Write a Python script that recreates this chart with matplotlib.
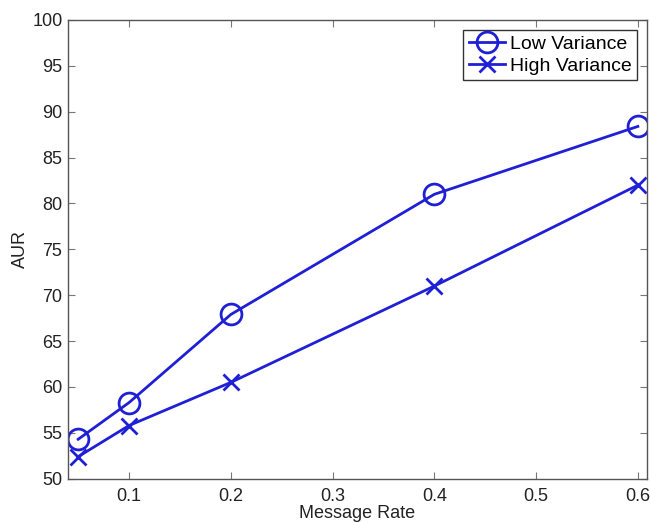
import matplotlib
matplotlib.use("Agg")
import matplotlib.pyplot as plt

# Data
message_rate = [0.05, 0.1, 0.2, 0.4, 0.6]
low_variance = [54.3, 58.3, 67.9, 81.0, 88.4]
high_variance = [52.4, 55.8, 60.5, 71.0, 82.0]
x_ticks = [0.1, 0.2, 0.3, 0.4, 0.5, 0.6]
x_tick_labels = ["0.1", "0.2", "0.3", "0.4", "0.5", "0.6"]
y_ticks = [50, 55, 60, 65, 70, 75, 80, 85, 90, 95, 100]

plt.rcParams["font.family"] = ["Liberation Sans", "DejaVu Sans"]

blue = "#1f1fd6"

fig = plt.figure(figsize=(6.5, 5.22), dpi=100)
ax = fig.add_axes([0.1046, 0.0829, 0.8908, 0.8788])

ax.plot(message_rate, low_variance, color=blue, lw=2.0, marker="o",
        markersize=15, markerfacecolor="none", markeredgewidth=2.0,
        label="Low Variance")
ax.plot(message_rate, high_variance, color=blue, lw=2.0, marker="x",
        markersize=11, markeredgewidth=2.0, label="High Variance")

ax.set_xlim(0.04, 0.609)
ax.set_ylim(50, 100)
ax.set_xticks(x_ticks)
ax.set_xticklabels(x_tick_labels)
ax.set_yticks(y_ticks)

for side in ax.spines.values():
    side.set_color("#555555")
    side.set_linewidth(1.0)

ax.tick_params(direction="in", length=5, width=0.8, color="#777777",
               top=True, right=True, labelsize=13, labelcolor="#222222")
ax.tick_params(axis="x", pad=7)
ax.tick_params(axis="y", pad=4)

ax.set_xlabel("Message Rate", fontsize=13, color="#222222", labelpad=0)
ax.set_ylabel("AUR", fontsize=13, color="#222222", labelpad=2)

leg = ax.legend(loc="upper right", fontsize=14, frameon=True, fancybox=False,
                handlelength=1.85, handletextpad=0.25, borderpad=0.3,
                labelspacing=0.2, borderaxespad=0.5)
leg.get_frame().set_edgecolor("#333333")
leg.get_frame().set_linewidth(1.0)
leg.get_frame().set_alpha(1.0)

fig.savefig("out.png", dpi=100)
